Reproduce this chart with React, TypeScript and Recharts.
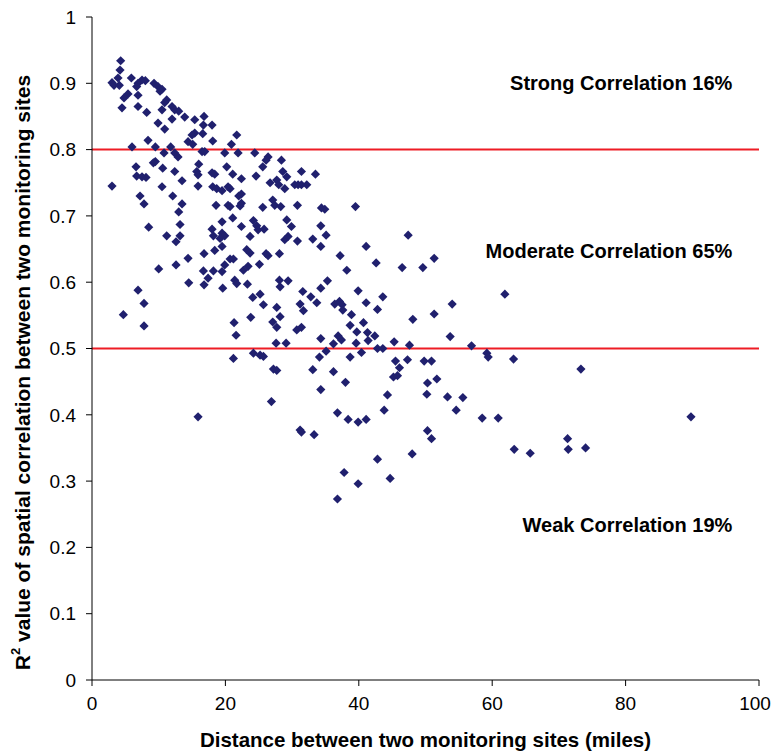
import React from 'react';
import { ScatterChart, Scatter, XAxis, YAxis, ReferenceLine, ReferenceDot } from 'recharts';

// distance between the two sites (miles)
const distance = [
  4.3, 4.2, 3.0, 3.3, 3.9, 4.1, 5.9, 6.9, 7.5, 8.0, 6.7, 9.3, 9.9, 10.5, 10.2, 6.9, 5.4, 4.8, 4.5, 6.9,
  8.2, 10.5, 11.2, 10.9, 12.0, 12.4, 13.0, 13.9, 12.0, 9.9, 10.9, 14.4, 8.4, 9.5, 6.0, 11.8, 12.4, 12.9, 10.8, 9.5,
  9.2, 10.6, 6.6, 6.7, 8.1, 7.5, 12.4, 13.5, 3.0, 10.5,
  7.2, 7.8, 8.5, 4.7, 6.9, 7.8, 7.8, 12.1, 13.5, 13.0, 13.2, 11.2, 13.2, 12.6, 14.4, 10.0, 12.6, 14.5,
  16.8, 15.4, 16.7, 18.0, 15.4, 15.0, 16.6, 15.1, 18.1, 21.7, 20.9, 16.5, 16.9, 19.9, 21.9, 24.4, 26.4, 26.1, 28.4, 16.0,
  25.6, 15.7, 15.9, 18.0, 18.4, 20.2, 21.1, 22.4, 24.6, 28.6, 29.2, 26.7, 27.7, 28.0, 28.9, 15.9, 18.1, 18.7, 19.5, 20.7,
  20.4, 22.0, 22.4, 18.6, 20.4, 20.7, 22.2, 22.4, 25.6, 27.1, 27.4, 28.3, 21.1,
  19.5, 22.4, 24.2, 24.7, 24.9, 25.8, 29.2, 18.0, 18.2, 19.5, 19.9, 19.2, 23.7, 28.9, 29.4, 18.4, 19.5, 23.2, 23.7, 26.1,
  26.4, 28.1, 16.8,
  20.7, 21.2, 19.9, 19.5, 16.7, 18.2, 17.4, 16.8, 19.6, 22.7, 23.4, 25.1, 21.4, 21.7, 23.3, 28.1, 29.4, 28.2, 24.1, 25.2,
  25.7, 27.7, 28.2, 27.1, 27.7, 23.8, 21.3, 21.6, 27.6, 29.1, 24.2, 25.2, 25.7, 21.2, 27.2, 27.7, 26.9, 15.9,
  31.4, 33.5, 30.4, 30.9, 31.4, 32.2, 30.8, 34.4, 34.9, 39.5, 29.9, 34.3, 35.1, 30.8, 33.1, 34.3, 47.4, 41.1, 37.2, 38.2,
  42.6, 46.5, 35.3, 31.6, 34.3, 32.8, 39.9, 43.6,
  31.2, 33.7, 31.7, 36.4, 37.1, 37.5, 37.6, 41.1, 42.8, 48.1, 38.9, 38.7, 40.7, 30.7, 31.4, 34.3, 36.9, 37.4, 39.7, 41.3,
  42.4, 41.4, 39.6, 36.2, 35.1, 42.8, 43.6, 45.3, 47.6, 40.4, 34.1, 38.7, 45.5, 46.1, 47.3, 33.1, 36.2, 45.2, 45.8, 38.0,
  34.3, 44.3, 43.8, 36.8, 38.4, 39.9, 41.1, 31.2, 31.4, 33.3, 42.8, 48.0, 37.8, 44.7, 39.9, 36.8,
  51.3, 49.6, 61.9, 54.0, 51.3, 53.7, 56.9, 59.2, 59.4, 63.2, 49.8, 50.9, 51.7, 50.3, 50.2, 53.3, 55.6, 54.6, 58.5, 60.9,
  50.3, 50.9, 63.3, 65.7, 73.3, 89.8, 71.3, 71.4, 74.0,
];

// R2 of the spatial correlation, same order as distance
const r2 = [
  0.934, 0.92, 0.901, 0.897, 0.908, 0.897, 0.908, 0.9, 0.905, 0.904, 0.895, 0.9, 0.895, 0.891, 0.888, 0.882, 0.884, 0.878, 0.863, 0.865,
  0.856, 0.86, 0.875, 0.871, 0.865, 0.86, 0.858, 0.849, 0.846, 0.84, 0.831, 0.812, 0.814, 0.804, 0.804, 0.804, 0.795, 0.789, 0.795, 0.782,
  0.78, 0.772, 0.774, 0.76, 0.758, 0.759, 0.767, 0.753, 0.745, 0.744,
  0.73, 0.718, 0.683, 0.551, 0.588, 0.568, 0.534, 0.73, 0.718, 0.706, 0.687, 0.67, 0.67, 0.661, 0.636, 0.62, 0.626, 0.599,
  0.85, 0.845, 0.837, 0.837, 0.825, 0.822, 0.824, 0.808, 0.813, 0.822, 0.808, 0.797, 0.797, 0.795, 0.795, 0.795, 0.789, 0.784, 0.784, 0.778,
  0.774, 0.767, 0.762, 0.765, 0.763, 0.774, 0.763, 0.756, 0.76, 0.767, 0.759, 0.75, 0.754, 0.747, 0.741, 0.745, 0.744, 0.741, 0.738, 0.741,
  0.744, 0.73, 0.733, 0.716, 0.716, 0.714, 0.715, 0.719, 0.713, 0.724, 0.716, 0.714, 0.697,
  0.691, 0.684, 0.693, 0.685, 0.679, 0.68, 0.694, 0.68, 0.67, 0.674, 0.67, 0.666, 0.669, 0.664, 0.669, 0.648, 0.654, 0.649, 0.644, 0.643,
  0.64, 0.643, 0.643,
  0.635, 0.635, 0.626, 0.616, 0.617, 0.617, 0.606, 0.596, 0.591, 0.618, 0.624, 0.627, 0.603, 0.598, 0.597, 0.603, 0.602, 0.593, 0.577, 0.582,
  0.566, 0.562, 0.548, 0.54, 0.532, 0.547, 0.539, 0.52, 0.508, 0.508, 0.493, 0.49, 0.488, 0.485, 0.469, 0.467, 0.42, 0.397,
  0.767, 0.763, 0.747, 0.747, 0.747, 0.747, 0.716, 0.712, 0.71, 0.714, 0.684, 0.685, 0.671, 0.662, 0.665, 0.654, 0.671, 0.654, 0.64, 0.618,
  0.629, 0.622, 0.602, 0.586, 0.591, 0.578, 0.587, 0.578,
  0.567, 0.569, 0.557, 0.567, 0.571, 0.566, 0.558, 0.569, 0.559, 0.544, 0.551, 0.535, 0.539, 0.528, 0.532, 0.515, 0.519, 0.513, 0.525, 0.524,
  0.519, 0.512, 0.508, 0.507, 0.496, 0.5, 0.5, 0.51, 0.505, 0.494, 0.487, 0.487, 0.481, 0.471, 0.483, 0.468, 0.465, 0.457, 0.459, 0.449,
  0.438, 0.43, 0.407, 0.403, 0.393, 0.389, 0.393, 0.377, 0.374, 0.37, 0.333, 0.341, 0.313, 0.304, 0.296, 0.273,
  0.636, 0.622, 0.582, 0.567, 0.552, 0.518, 0.504, 0.493, 0.487, 0.484, 0.481, 0.481, 0.454, 0.448, 0.431, 0.427, 0.426, 0.407, 0.395, 0.395,
  0.376, 0.364, 0.348, 0.342, 0.469, 0.397, 0.364, 0.348, 0.35,
];

const xTicks = [0, 20, 40, 60, 80, 100];
const yTicks = [0, 0.1, 0.2, 0.3, 0.4, 0.5, 0.6, 0.7, 0.8, 0.9, 1];
const thresholds = [0.5, 0.8];

const bandLabels = ['Strong Correlation 16%', 'Moderate Correlation 65%', 'Weak Correlation 19%'];
const bandLabelY = [0.9, 0.647, 0.234];
const bandLabelX = 96;

const points = distance.map((d, i) => ({ distance: d, r2: r2[i] }));

const FONT = "'Liberation Sans', Arial, sans-serif";
const NARROW = "'Liberation Sans Narrow', 'Arial Narrow', 'Liberation Sans', sans-serif";

const Diamond = (props: any) => {
  const { cx, cy } = props;
  const s = 4.6;
  return <path d={`M${cx},${cy - s}L${cx + s},${cy}L${cx},${cy + s}L${cx - s},${cy}Z`} fill="#20206e" />;
};

const bandLabel = (text: string) => (props: any) => {
  const { viewBox } = props;
  return (
    <text x={viewBox.x} y={viewBox.y} textAnchor="end" dominantBaseline="central"
      fontFamily={FONT} fontWeight="bold" fontSize={20} fill="#000">
      {text}
    </text>
  );
};

// last x tick ("100") sits on the window edge, pull it in a little
const XTick = (props: any) => {
  const { x, y, payload } = props;
  const tx = Math.min(x, 755);
  return (
    <text x={tx} y={y} dy="0.71em" textAnchor="middle" fontFamily={FONT} fontSize={19} fill="#000">
      {payload.value}
    </text>
  );
};

const YTitle = (props: any) => {
  const { viewBox } = props;
  const cx = viewBox.x + 22;
  const cy = viewBox.y + viewBox.height / 2 + 24;
  return (
    <text x={cx} y={cy} transform={`rotate(-90 ${cx} ${cy})`} textAnchor="middle" dominantBaseline="central"
      fontFamily={NARROW} fontWeight="bold" fontSize={21} fill="#000">
      <tspan>R</tspan>
      <tspan dy={-7} fontSize={13}>2</tspan>
      <tspan dy={7}> value of spatial correlation between two monitoring sites</tspan>
    </text>
  );
};

const XTitle = (props: any) => {
  const { viewBox } = props;
  return (
    <text x={viewBox.x + viewBox.width / 2} y={viewBox.y + 67} textAnchor="middle"
      fontFamily={NARROW} fontWeight="bold" fontSize={20.5} fill="#000">
      Distance between two monitoring sites (miles)
    </text>
  );
};

export default function App() {
  return (
    <div style={{ position: 'absolute', left: 0, top: 0, width: 773, height: 753, background: '#fff' }}>
      <ScatterChart width={773} height={753} margin={{ top: 17, right: 14, bottom: 33, left: 0 }}>
        <XAxis
          type="number"
          dataKey="distance"
          domain={[0, 100]}
          ticks={xTicks}
          height={40}
          tickSize={6}
          tickMargin={11}
          axisLine={{ stroke: '#000' }}
          tickLine={{ stroke: '#000' }}
          tick={<XTick />}
          label={<XTitle />}
        />
        <YAxis
          type="number"
          dataKey="r2"
          domain={[0, 1]}
          ticks={yTicks}
          width={92}
          tickSize={6}
          tickMargin={10}
          axisLine={{ stroke: '#000' }}
          tickLine={{ stroke: '#000' }}
          tick={{ fill: '#000', fontSize: 19, fontFamily: FONT }}
          tickFormatter={(v: number) => String(Number(v.toFixed(1)))}
          label={<YTitle />}
        />
        <Scatter data={points} shape={Diamond} isAnimationActive={false} />
        {thresholds.map((t) => (
          <ReferenceLine key={t} y={t} stroke="#ee1c25" strokeWidth={2} />
        ))}
        {bandLabels.map((txt, i) => (
          <ReferenceDot key={txt} x={bandLabelX} y={bandLabelY[i]} r={0} stroke="none" fill="none"
            label={bandLabel(txt)} />
        ))}
      </ScatterChart>
    </div>
  );
}
